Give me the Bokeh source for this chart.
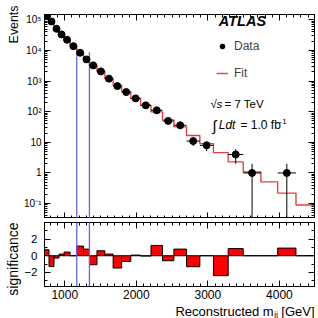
import numpy as np
from bokeh.core.properties import value
from bokeh.embed import file_html
from bokeh.layouts import column
from bokeh.models import (FixedTicker, Label, Legend, LegendItem, LinearAxis,
                          LogAxis, Range1d, Title)
from bokeh.plotting import figure
from bokeh.resources import INLINE

# Dijet invariant-mass bins [GeV]
bin_edges = [717, 780, 850, 920, 990, 1074, 1168, 1262, 1345, 1450,
             1560, 1676, 1795, 1923, 2060, 2205, 2366, 2525, 2702, 2888,
             3078, 3284, 3494, 3741, 3975, 4231, 4490]
# Observed events per bin
data_counts = [138000, 88000, 51000, 33300, 22300, 13800, 8400, 5100, 3250, 2070,
               1200, 686, 437, 272, 161, 111, 50, 36, 11, 8,
               0, 4, 1, 0, 1, 0]
# Background fit prediction per bin
fit_counts = [137700, 88400, 51100, 33260, 22230, 13800, 8290, 5040, 3310, 2040,
              1193, 725, 451, 271, 162, 99, 54, 32, 16.8, 9.1,
              4.6, 2.3, 1.08, 0.51, 0.22, 0.09]
# Bin-by-bin significance of data vs fit
significance = [0.72, -1.3, -0.28, 0.2, 0.44, 0.0, 1.16, 0.8, -1.08, 0.6,
                0.2, -1.48, -0.68, 0.08, -0.04, 1.24, -0.6, 0.8, -1.32, 0.0,
                -2.4, 0.86, 0.0, 0.0, 0.92, 0.0]
# Most discrepant interval
bump_window = [1168, 1345]
bump_line_top = [9400, 8700]

mass_ticks = [1000, 2000, 3000, 4000]
event_ticks = [0.1, 1, 10, 100, 1000, 10000, 100000]
event_tick_labels = ["10\u207b\u00b9", "1", "10", "10\u00b2", "10\u00b3", "10\u2074", "10\u2075"]
sig_ticks = [-2, 0, 2]

FONT = "Liberation Sans"
X_LO, X_HI = 717, 4490

edges = np.array(bin_edges, dtype=float)
lo, hi = edges[:-1], edges[1:]
centers = 0.5 * (lo + hi)
counts = np.array(data_counts, dtype=float)
fit = np.array(fit_counts, dtype=float)
sig = np.array(significance, dtype=float)
nz = counts > 0
err = np.sqrt(counts)

mass_minor = [m for m in range(800, 4500, 100) if m % 1000]
event_minor = [k * 10.0 ** d for d in range(-2, 6) for k in range(2, 10)]


def style_axis(ax, labels, size="10px", standoff=3, major=6, minor=3):
    ax.major_tick_in = major
    ax.major_tick_out = 0
    ax.minor_tick_in = minor
    ax.minor_tick_out = 0
    ax.axis_line_color = "black"
    ax.major_tick_line_color = "black"
    ax.minor_tick_line_color = "black"
    ax.major_label_text_font = FONT
    if labels:
        ax.major_label_text_font_size = size
        ax.major_label_text_color = "black"
        ax.major_label_standoff = standoff
    else:
        # mirror axis: ticks only
        ax.major_label_text_font_size = "1px"
        ax.major_label_text_alpha = 0
        ax.major_label_standoff = 0


def side_title(fig, text, size, place, offset=0, standoff=0):
    fig.add_layout(Title(text=text, align="right", text_font=FONT,
                         text_font_size=f"{size}px", text_font_style="normal",
                         text_color="black", offset=offset, standoff=standoff),
                   place)


def note(fig, x, y, text, size, dx=0, dy=0, style="normal", align="left",
         baseline="middle"):
    fig.add_layout(Label(x=x, y=y, x_offset=dx, y_offset=dy, text=text,
                         text_font=FONT, text_font_size=f"{size}px",
                         text_font_style=style, text_align=align,
                         text_baseline=baseline, text_color="black"))


# ---------------- upper panel: spectrum ----------------
top = figure(width=318, height=218, x_range=Range1d(X_LO, X_HI),
             y_range=Range1d(0.0326, 1.49e5), y_axis_type="log",
             x_axis_location=None, y_axis_location=None,
             toolbar_location=None, output_backend="svg",
             min_border_left=44, min_border_right=4, min_border_top=14,
             min_border_bottom=0, outline_line_color="black",
             background_fill_color="white", border_fill_color="white")
top.grid.visible = False

ax = LogAxis(ticker=FixedTicker(ticks=event_ticks, minor_ticks=event_minor),
             major_label_overrides=dict(zip(event_ticks, event_tick_labels)))
style_axis(ax, True, "10px", 3)
top.add_layout(ax, "left")
side_title(top, "Events", 12.4, "left", offset=-9, standoff=2)
ax = LogAxis(ticker=FixedTicker(ticks=event_ticks, minor_ticks=event_minor))
style_axis(ax, False)
top.add_layout(ax, "right")
for side in ("above", "below"):
    ax = LinearAxis(ticker=FixedTicker(ticks=mass_ticks, minor_ticks=mass_minor))
    style_axis(ax, False)
    top.add_layout(ax, side)

fit_line = top.step(x=edges, y=np.append(fit, fit[-1]), mode="after",
                    line_color="#e8403f", line_width=1.4)
top.segment(x0=bump_window, y0=[1e-4, 1e-4], x1=bump_window, y1=bump_line_top,
            line_color="#6464ee", line_width=1.3)
top.segment(x0=lo[nz], y0=counts[nz], x1=hi[nz], y1=counts[nz],
            line_color="black", line_width=1)
top.segment(x0=centers[nz], y0=np.maximum(counts[nz] - err[nz], 1e-4),
            x1=centers[nz], y1=counts[nz] + err[nz],
            line_color="black", line_width=1)
pts = top.scatter(x=centers[nz], y=counts[nz], size=7, marker="circle",
                  fill_color="black", line_color="black")

legend = Legend(items=[LegendItem(label=value("Data"), renderers=[pts]),
                       LegendItem(label=value("Fit"), renderers=[fit_line])],
                location=(172, 137), padding=0, spacing=11, margin=0,
                glyph_width=12, glyph_height=16, label_height=16,
                label_standoff=6, label_text_font=FONT,
                label_text_font_size="12px", border_line_alpha=0,
                background_fill_alpha=0)
top.add_layout(legend)

note(top, 3153, 9.0e4, "ATLAS", 14.5, style="bold italic")
note(top, 3037, 181, "\u221a", 11.5)
note(top, 3037, 181, "s", 11.5, dx=6, style="italic")
note(top, 3037, 181, "= 7 TeV", 11.5, dx=14)
note(top, 3060, 36, "\u222b", 15)
note(top, 3060, 36, "Ldt", 12, dx=6.6, style="italic")
note(top, 3060, 36, "= 1.0 fb", 12, dx=28.3)
note(top, 3060, 36, "-1", 8, dx=67.3, dy=4)

# ---------------- lower panel: significance ----------------
bot = figure(width=318, height=100, x_range=top.x_range, y_range=Range1d(-3.7, 4.0),
             x_axis_location=None, y_axis_location=None,
             toolbar_location=None, output_backend="svg",
             min_border_left=44, min_border_right=4, min_border_top=4,
             min_border_bottom=32, outline_line_color="black",
             background_fill_color="white", border_fill_color="white")
bot.grid.visible = False

ax = LinearAxis(ticker=FixedTicker(ticks=sig_ticks, minor_ticks=[-3, -1, 1, 3]))
style_axis(ax, True, "11.5px", 7)
bot.add_layout(ax, "left")
side_title(bot, "significance", 14, "left", standoff=2)
ax = LinearAxis(ticker=FixedTicker(ticks=sig_ticks, minor_ticks=[-3, -1, 1, 3]))
style_axis(ax, False)
bot.add_layout(ax, "right")
ax = LinearAxis(ticker=FixedTicker(ticks=mass_ticks, minor_ticks=mass_minor))
style_axis(ax, True, "12px", 3)
bot.add_layout(ax, "below")
side_title(bot, "Reconstructed m\u2c7c\u2c7c [GeV]", 13, "below", standoff=0)
ax = LinearAxis(ticker=FixedTicker(ticks=mass_ticks, minor_ticks=mass_minor))
style_axis(ax, False)
bot.add_layout(ax, "above")

bot.quad(left=lo, right=hi, bottom=0, top=sig, fill_color="#ff0000",
         line_color="black", line_width=1)
bot.segment(x0=bump_window, y0=[-10, -10], x1=bump_window, y1=[10, 10],
            line_color="#6464ee", line_width=1.3)

layout = column(top, bot, spacing=0)
open("out.html", "w").write(file_html(layout, INLINE))
